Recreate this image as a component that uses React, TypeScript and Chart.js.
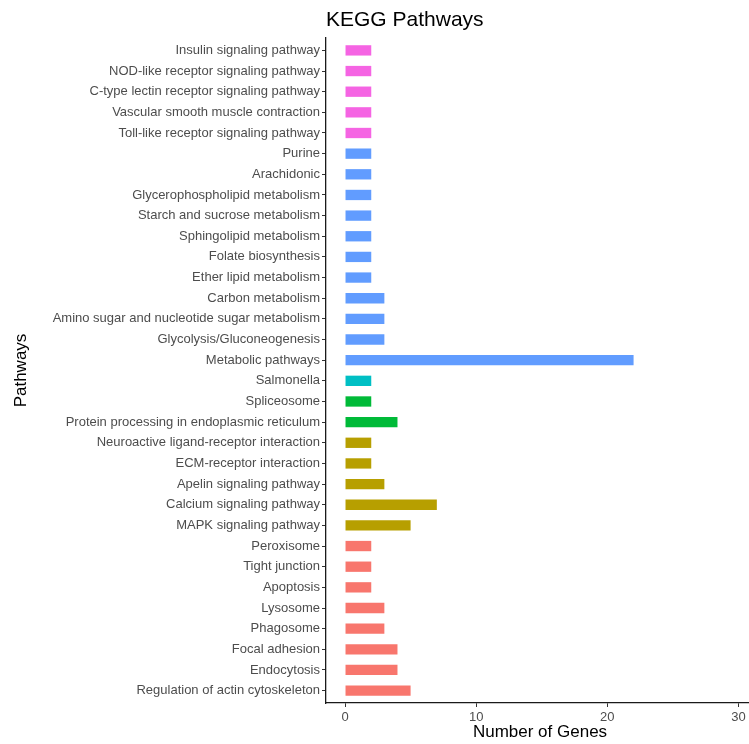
import React, { useEffect, useRef } from "react";
import { Chart, registerables } from "chart.js";

Chart.register(...registerables);

// Pathways listed top to bottom, with their gene counts and functional group
const pathways = [
  "Insulin signaling pathway",
  "NOD-like receptor signaling pathway",
  "C-type lectin receptor signaling pathway",
  "Vascular smooth muscle contraction",
  "Toll-like receptor signaling pathway",
  "Purine",
  "Arachidonic",
  "Glycerophospholipid metabolism",
  "Starch and sucrose metabolism",
  "Sphingolipid metabolism",
  "Folate biosynthesis",
  "Ether lipid metabolism",
  "Carbon metabolism",
  "Amino sugar and nucleotide sugar metabolism",
  "Glycolysis/Gluconeogenesis",
  "Metabolic pathways",
  "Salmonella",
  "Spliceosome",
  "Protein processing in endoplasmic reticulum",
  "Neuroactive ligand-receptor interaction",
  "ECM-receptor interaction",
  "Apelin signaling pathway",
  "Calcium signaling pathway",
  "MAPK signaling pathway",
  "Peroxisome",
  "Tight junction",
  "Apoptosis",
  "Lysosome",
  "Phagosome",
  "Focal adhesion",
  "Endocytosis",
  "Regulation of actin cytoskeleton",
];

const geneCounts = [
  2, 2, 2, 2, 2,
  2, 2, 2, 2, 2, 2, 2, 3, 3, 3, 22,
  2,
  2, 4,
  2, 2, 3, 7, 5,
  2, 2, 2, 3, 3, 4, 4, 5,
];

const groups = [
  "immune", "immune", "immune", "immune", "immune",
  "metabolism", "metabolism", "metabolism", "metabolism", "metabolism", "metabolism",
  "metabolism", "metabolism", "metabolism", "metabolism", "metabolism",
  "infection",
  "processing", "processing",
  "signaling", "signaling", "signaling", "signaling", "signaling",
  "cellular", "cellular", "cellular", "cellular", "cellular", "cellular", "cellular", "cellular",
];

const groupColors: Record<string, string> = {
  cellular: "#F8766D",
  signaling: "#B79F00",
  processing: "#00BA38",
  infection: "#00BFC4",
  metabolism: "#619CFF",
  immune: "#F564E3",
};

const xTicks = [0, 10, 20, 30];

const FONT = "'Liberation Sans', Arial, Helvetica, sans-serif";

const titlesPlugin = {
  id: "plotTitles",
  afterDraw(chart: any) {
    const { ctx, chartArea } = chart;
    ctx.save();
    ctx.fillStyle = "#000";
    // main title, left-aligned with the panel
    ctx.font = `21px ${FONT}`;
    ctx.textAlign = "left";
    ctx.textBaseline = "alphabetic";
    ctx.fillText("KEGG Pathways", chartArea.left, 26);
    // x axis title
    ctx.font = `17px ${FONT}`;
    ctx.textAlign = "center";
    ctx.textBaseline = "middle";
    ctx.fillText("Number of Genes", 540, 732);
    // y axis title
    ctx.translate(21, (chartArea.top + chartArea.bottom) / 2);
    ctx.rotate(-Math.PI / 2);
    ctx.fillText("Pathways", 0, 0);
    ctx.restore();
  },
};

export default function App() {
  const canvasRef = useRef<HTMLCanvasElement | null>(null);

  useEffect(() => {
    const canvas = canvasRef.current;
    if (!canvas) return;
    const chart = new Chart(canvas, {
      type: "bar",
      data: {
        datasets: [
          {
            data: geneCounts.map((v, i) => ({ x: v, y: i })),
            backgroundColor: groups.map((g) => groupColors[g]),
            borderWidth: 0,
            barPercentage: 0.5,
            categoryPercentage: 1,
          },
        ],
      },
      options: {
        indexAxis: "y",
        animation: false,
        responsive: false,
        maintainAspectRatio: false,
        layout: { padding: { top: 38, left: 0, right: 0, bottom: 0 } },
        plugins: {
          legend: { display: false },
          tooltip: { enabled: false },
          title: { display: false },
        },
        scales: {
          x: {
            type: "linear",
            min: -1.45,
            max: 30.8,
            offset: false,
            afterBuildTicks: (scale: any) => {
              scale.ticks = xTicks.map((v) => ({ value: v }));
            },
            afterFit: (scale: any) => {
              scale.height = 41;
            },
            grid: {
              offset: false,
              drawOnChartArea: false,
              drawTicks: true,
              tickLength: 4,
              color: "#333333",
              lineWidth: 1,
            },
            border: { display: true, color: "#1a1a1a", width: 1.3 },
            ticks: {
              color: "#4D4D4D",
              font: { family: FONT, size: 13 },
              padding: 3,
              maxRotation: 0,
              callback: (v: any) => String(v),
            },
          },
          y: {
            type: "linear",
            reverse: true,
            offset: false,
            min: -0.6,
            max: pathways.length - 1 + 0.6,
            afterBuildTicks: (scale: any) => {
              scale.ticks = pathways.map((_, i) => ({ value: i }));
            },
            afterFit: (scale: any) => {
              scale.width = 326;
            },
            grid: {
              offset: false,
              drawOnChartArea: false,
              drawTicks: true,
              tickLength: 4,
              color: "#333333",
              lineWidth: 1,
            },
            border: { display: true, color: "#1a1a1a", width: 1.3 },
            ticks: {
              color: "#4D4D4D",
              font: { family: FONT, size: 13 },
              padding: 2,
              autoSkip: false,
              callback: (v: any) => pathways[v as number] ?? "",
            },
          },
        },
      },
      plugins: [titlesPlugin],
    } as any);
    return () => chart.destroy();
  }, []);

  return (
    <div
      style={{
        position: "fixed",
        left: 0,
        top: 0,
        width: 749,
        height: 744,
        background: "#fff",
      }}
    >
      <canvas ref={canvasRef} width={749} height={744} style={{ display: "block" }} />
    </div>
  );
}
